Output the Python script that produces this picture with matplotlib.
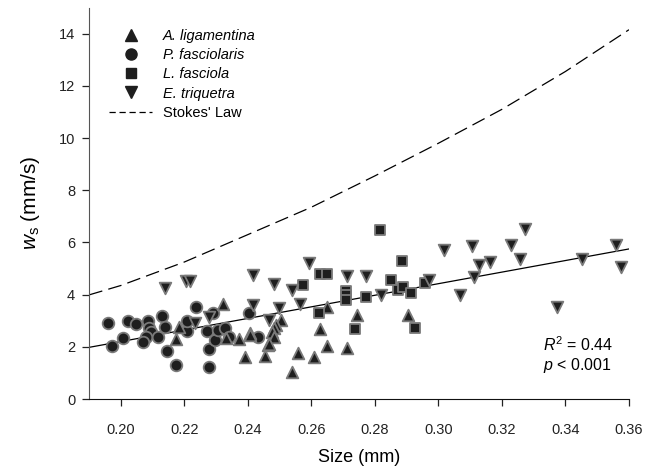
import matplotlib
matplotlib.use("Agg")
import matplotlib.pyplot as plt
from matplotlib.lines import Line2D

plt.rcParams['font.family'] = ['Liberation Sans', 'DejaVu Sans']
plt.rcParams['mathtext.fontset'] = 'custom'
plt.rcParams['mathtext.rm'] = 'Liberation Sans'
plt.rcParams['mathtext.it'] = 'Liberation Sans:italic'

# ---- data ----
lig_x = [0.2183, 0.2173, 0.2321, 0.2332, 0.2372, 0.2391, 0.2408, 0.2505, 0.2490, 0.2482,
         0.2476, 0.2482, 0.2463, 0.2453, 0.2539, 0.2649, 0.2743, 0.2628, 0.2905, 0.2649,
         0.2712, 0.2558, 0.2607, 0.2466, 0.2406]
lig_y = [2.77, 2.31, 3.63, 2.35, 2.30, 1.62, 2.54, 3.03, 2.84, 2.71,
         2.56, 2.39, 2.07, 1.66, 1.05, 3.54, 3.22, 2.69, 3.22, 2.05,
         1.94, 1.75, 1.62, 2.11, 2.45]

pf_x = [0.1959, 0.1973, 0.2008, 0.2022, 0.2049, 0.2086, 0.2090, 0.2096, 0.2078, 0.2069,
        0.2129, 0.2139, 0.2118, 0.2144, 0.2173, 0.2208, 0.2209, 0.2238, 0.2270, 0.2278,
        0.2276, 0.2290, 0.2295, 0.2306, 0.2327, 0.2340, 0.2405, 0.2432]
pf_y = [2.92, 2.05, 2.33, 3.00, 2.88, 2.99, 2.71, 2.58, 2.37, 2.20,
        3.18, 2.76, 2.37, 1.85, 1.29, 2.62, 2.99, 3.54, 2.60, 1.91,
        1.22, 3.29, 2.26, 2.65, 2.71, 2.39, 3.29, 2.39]

lf_x = [0.2573, 0.2628, 0.2649, 0.2815, 0.2884, 0.2708, 0.2708, 0.2708, 0.2773, 0.2850,
        0.2873, 0.2889, 0.2915, 0.2957, 0.2623, 0.2738, 0.2925]
lf_y = [4.37, 4.79, 4.79, 6.48, 5.29, 4.15, 3.97, 3.80, 3.90, 4.56,
        4.18, 4.31, 4.05, 4.46, 3.29, 2.69, 2.71]

et_x = [0.2139, 0.2204, 0.2219, 0.2416, 0.2416, 0.2232, 0.2279, 0.2482, 0.2539, 0.2498,
        0.2468, 0.2592, 0.2712, 0.2773, 0.2820, 0.2970, 0.2563, 0.3016, 0.3107, 0.3227,
        0.3273, 0.3128, 0.3161, 0.3258, 0.3112, 0.3067, 0.3453, 0.3560, 0.3574, 0.3373]
et_y = [4.27, 4.54, 4.54, 4.76, 3.60, 2.90, 3.13, 4.40, 4.18, 3.48,
        3.03, 5.23, 4.71, 4.71, 3.99, 4.56, 3.63, 5.72, 5.88, 5.89,
        6.53, 5.15, 5.26, 5.38, 4.67, 3.99, 5.38, 5.89, 5.07, 3.54]

stokes_x = [0.19, 0.20, 0.22, 0.24, 0.26, 0.28, 0.30, 0.32, 0.34, 0.36]
stokes_y = [3.99, 4.35, 5.25, 6.30, 7.35, 8.55, 9.80, 11.10, 12.55, 14.15]

fit_x = [0.19, 0.36]
fit_y = [1.98, 5.75]

x_ticks = [0.20, 0.22, 0.24, 0.26, 0.28, 0.30, 0.32, 0.34, 0.36]
y_ticks = [0, 2, 4, 6, 8, 10, 12, 14]

# ---- figure ----
fig = plt.figure(figsize=(6.6, 4.7), dpi=100)
ax = fig.add_axes([0.135, 0.151, 0.818, 0.833])

fill = '#1e1e1e'
edge = '#7a7a7a'
kw = dict(s=70, facecolor=fill, edgecolor=edge, linewidths=1.3, zorder=3)

ax.plot(stokes_x, stokes_y, color='black', lw=0.9, dashes=(11, 5), zorder=2)
ax.plot(fit_x, fit_y, color='black', lw=0.9, zorder=2)

ax.scatter(pf_x, pf_y, marker='o', **kw)
ax.scatter(lig_x, lig_y, marker='^', **kw)
ax.scatter(lf_x, lf_y, marker='s', **dict(kw, s=60))
ax.scatter(et_x, et_y, marker='v', **kw)

ax.set_xlim(0.19, 0.36)
ax.set_ylim(0, 15)
ax.set_xticks(x_ticks)
ax.set_xticklabels([f"{v:.2f}" for v in x_ticks])
ax.set_yticks(y_ticks)
ax.tick_params(direction='out', length=5, width=0.9, labelsize=10.5, colors='#222222')
ax.tick_params(axis='x', pad=12)
ax.tick_params(axis='y', pad=5)
for s in ['top', 'right']:
    ax.spines[s].set_visible(False)
ax.spines['left'].set_color('#555555')
ax.spines['bottom'].set_color('#111111')

ax.set_xlabel('Size (mm)', fontsize=13, labelpad=9)
ax.set_ylabel(r'$w_\mathregular{s}$ (mm/s)', fontsize=15, labelpad=12)

ax.text(0.3328, 2.07, r'$R^2$ = 0.44', fontsize=11.5, va='center', ha='left')
ax.text(0.3328, 1.27, r'$p$ < 0.001', fontsize=11.5, va='center', ha='left')

handles = [
    Line2D([], [], ls='none', marker='^', ms=8, mfc=fill, mec=fill),
    Line2D([], [], ls='none', marker='o', ms=8, mfc=fill, mec=fill),
    Line2D([], [], ls='none', marker='s', ms=7, mfc=fill, mec=fill),
    Line2D([], [], ls='none', marker='v', ms=8, mfc=fill, mec=fill),
    Line2D([], [], color='black', lw=0.9, dashes=(5, 3)),
]
labels = ['A. ligamentina', 'P. fasciolaris', 'L. fasciola', 'E. triquetra', "Stokes' Law"]
leg = ax.legend(handles, labels, loc='upper left', bbox_to_anchor=(0.02, 0.967),
                frameon=False, fontsize=10.5, handlelength=3.0, handletextpad=0.7,
                labelspacing=0.35, borderaxespad=0.2)
for t in leg.get_texts()[:4]:
    t.set_fontstyle('italic')

fig.savefig('out.png', dpi=100)
